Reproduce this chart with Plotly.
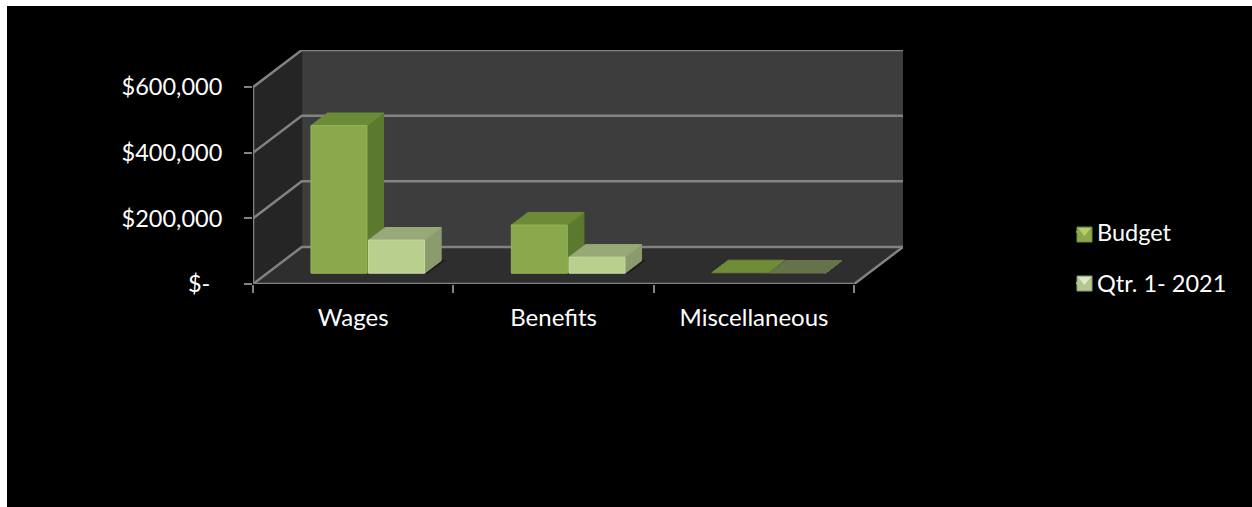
import plotly.graph_objects as go

# ---------- data ----------
categories = ["Wages", "Benefits", "Miscellaneous"]
budget = [450000, 147000, 1500]
qtr1 = [101000, 49000, 500]
y_ticks = [0, 200000, 400000, 600000]
y_tick_labels = ["$-\u00a0\u00a0", "$200,000", "$400,000", "$600,000"]
legend_names = ["Budget", "Qtr. 1- 2021"]

# ---------- oblique projection constants, in axis units ----------
DX = 0.2435        # category units for full chart depth
DY = 112800        # dollars for full chart depth
X_MAX = 3 + DX
Y_MAX = 713000
N = len(categories)
BAR_W = 0.2835
BAR_START = 0.2185
D0, D1 = 0.29, 0.63

FONT = "Lato, Carlito, Calibri, sans-serif"
GRID = "#828282"

W, H = 1252, 507
L, R, T, B = 253, 349, 50, 223
pw = W - L - R
ph = H - T - B


def px(x):
    return (x - L) / pw


def py(y):
    return (H - B - y) / ph


def proj(x, y, d=0.0):
    return x + d * DX, y + d * DY


def poly(points, fill, line=None, width=1):
    xs, ys = zip(*[proj(*p) for p in points + points[:1]])
    return go.Scatter(
        x=list(xs), y=list(ys), mode="lines", fill="toself", fillcolor=fill,
        line=dict(color=line or fill, width=width), hoverinfo="skip",
        showlegend=False, cliponaxis=False,
    )


def seg(points, color=GRID, width=2.5):
    xs, ys = zip(*[proj(*p) for p in points])
    return go.Scatter(
        x=list(xs), y=list(ys), mode="lines", line=dict(color=color, width=width),
        hoverinfo="skip", showlegend=False, cliponaxis=False,
    )


fig = go.Figure()
top = y_ticks[-1]
# walls
fig.add_trace(poly([(0, 0, 1), (N, 0, 1), (N, top, 1), (0, top, 1)], "#3d3d3d"))
fig.add_trace(poly([(0, 0, 0), (0, 0, 1), (0, top, 1), (0, top, 0)], "#252525"))
fig.add_trace(poly([(0, 0, 0), (N, 0, 0), (N, 0, 1), (0, 0, 1)], "#2e2e2e"))
# gridlines
for t in y_ticks:
    fig.add_trace(seg([(0, t, 0), (0, t, 1), (N, t, 1)]))
fig.add_trace(seg([(0, 0, 0), (0, top, 0)]))
fig.add_trace(seg([(0, 0, 0), (N, 0, 0), (N, 0, 1)]))

# soft floor shadows
for i in range(N):
    x0 = i + BAR_START
    x1 = x0 + 2 * BAR_W
    spread = ((0.05, 0.12), (0.035, 0.16), (0.02, 0.2)) if i < N - 1 else ((0.015, 0.2),)
    for pad, alpha in spread:
        fig.add_trace(poly([(x0 - pad * 0.2, 0, D0 - pad * 0.3), (x1 + pad * 0.5, 0, D0 - pad * 0.3),
                            (x1 + pad * 0.5, 0, D1 + pad * 0.6), (x0 - pad * 0.2, 0, D1 + pad * 0.6)],
                           f"rgba(0,0,0,{alpha})", line="rgba(0,0,0,0)"))

SERIES = [
    (budget, "#8aa94c", "#6b8b36", "#5b7a2d", "#95b358"),
    (qtr1, "#b8cf8e", "#97a976", "#8a9b6c", "#c6d89f"),
]
MISC_TOPS = ["#6f8c39", "#65734b"]
for i in range(N):
    for s, (vals, front, topc, side, edge) in enumerate(SERIES):
        v = vals[i]
        x0 = i + BAR_START + s * BAR_W + (0.004 if s else 0)
        x1 = x0 + BAR_W - 0.004
        tc = MISC_TOPS[s] if i == N - 1 else topc
        fig.add_trace(poly([(x1, 0, D0), (x1, 0, D1), (x1, v, D1), (x1, v, D0)], side))
        fig.add_trace(poly([(x0, v, D0), (x1, v, D0), (x1, v, D1), (x0, v, D1)], tc))
        if i < N - 1:
            fig.add_trace(poly([(x0, 0, D0), (x1, 0, D0), (x1, v, D0), (x0, v, D0)], front, edge))

# legend entries (small marker sits inside the bevelled swatch drawn below)
SWATCH = [("#8aa94c", "#6f8a3c", "#b5d06a", 227), ("#b4c693", "#8f9f74", "#dfe8c8", 276)]
for name, (color, border, hi, sy) in zip(legend_names, SWATCH):
    fig.add_trace(go.Scatter(
        x=[None], y=[None], mode="markers", name=name, legendgroup=name,
        marker=dict(symbol="square", size=2, color=color),
    ))

shapes = [dict(
    type="rect", xref="paper", yref="paper", layer="below", line_width=0, fillcolor="black",
    x0=px(7), x1=px(W + 5), y0=py(H + 5), y1=py(6),
)]
for color, border, hi, sy in SWATCH:
    sx, size = 1077, 15
    shapes.append(dict(type="rect", xref="paper", yref="paper", fillcolor=color,
                       line=dict(color=border, width=1),
                       x0=px(sx), x1=px(sx + size), y0=py(sy + size), y1=py(sy)))
    path = f"M {px(sx + 1)} {py(sy + 1)} L {px(sx + size - 1)} {py(sy + 1)} L {px(sx + size / 2)} {py(sy + size * 0.6)} Z"
    shapes.append(dict(type="path", xref="paper", yref="paper", path=path,
                       fillcolor=hi, line_width=0))

fig.update_layout(
    width=W, height=H,
    margin=dict(l=L, r=R, t=T, b=B, autoexpand=False),
    paper_bgcolor="white", plot_bgcolor="black",
    font=dict(family=FONT, color="white", size=24),
    showlegend=True,
    legend=dict(
        x=px(1057), y=py(258), xanchor="left", yanchor="middle",
        bgcolor="rgba(0,0,0,0)", font=dict(size=23.5, color="white", family=FONT),
        tracegroupgap=18, itemwidth=30,
    ),
    xaxis=dict(
        range=[0, X_MAX], tickvals=[i + 0.5 for i in range(N)], ticktext=categories,
        showgrid=False, zeroline=False, showline=False, ticks="", ticklabelstandoff=17,
        fixedrange=True, tickfont=dict(size=24),
        minor=dict(tickvals=list(range(N + 1)), ticks="outside", ticklen=8, tickwidth=2,
                   tickcolor=GRID, showgrid=False),
    ),
    yaxis=dict(
        range=[0, Y_MAX], tickvals=y_ticks, ticktext=y_tick_labels, showgrid=False,
        zeroline=False, showline=False, ticks="outside", ticklen=8, tickwidth=2,
        tickcolor=GRID, ticklabelstandoff=17, fixedrange=True, tickfont=dict(size=23.5),
    ),
    shapes=shapes,
)

fig.write_html("out.html", post_script="document.body.style.margin='0';",
               config={"displayModeBar": False})
